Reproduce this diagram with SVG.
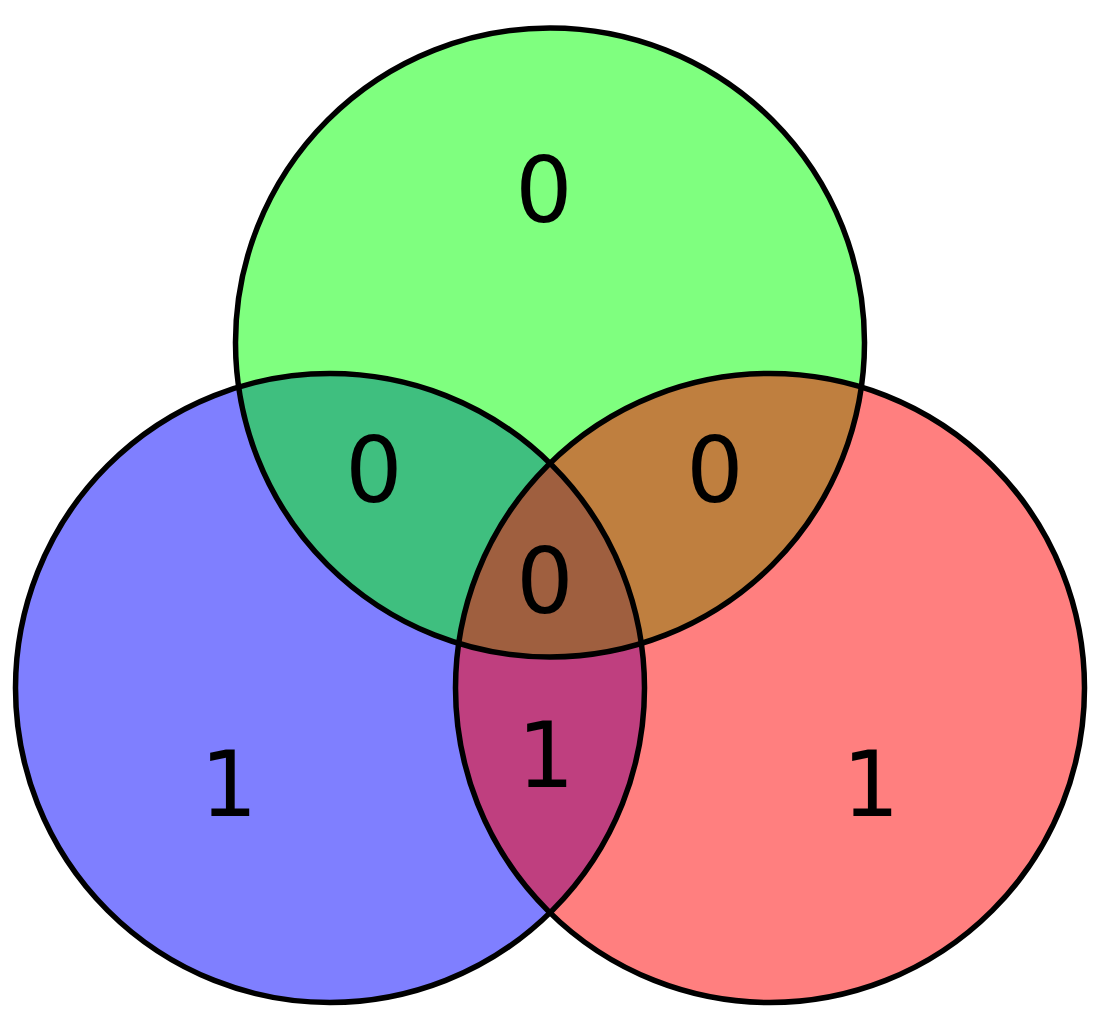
<svg xmlns="http://www.w3.org/2000/svg" width="1103" height="1024" viewBox="0 0 1103 1024">
<style>
.fill{stroke:none;fill-opacity:0.5}
.edge{fill:none;stroke:#000;stroke-width:5.5}
.num{font-family:"DejaVu Sans",sans-serif;font-size:90px;fill:#000;text-anchor:middle}
</style>
<rect width="1103" height="1024" fill="#fff"/>
<g id="fills">
<circle id="blue" class="fill" cx="330" cy="688" r="314.5" fill="#0000ff"/>
<circle id="green" class="fill" cx="550" cy="342.5" r="314.5" fill="#00ff00"/>
<circle id="red" class="fill" cx="770" cy="688" r="314.5" fill="#ff0000"/>
</g>
<g id="outlines">
<circle class="edge" cx="330" cy="688" r="314.5"/>
<circle class="edge" cx="550" cy="342.5" r="314.5"/>
<circle class="edge" cx="770" cy="688" r="314.5"/>
</g>
<g id="labels">
<text class="num" x="544" y="222">0</text>
<text class="num" x="374" y="502">0</text>
<text class="num" x="715" y="502">0</text>
<text class="num" x="545" y="613">0</text>
<text class="num" x="229" y="816">1</text>
<text class="num" x="546" y="787">1</text>
<text class="num" x="871" y="816">1</text>
</g>
</svg>
